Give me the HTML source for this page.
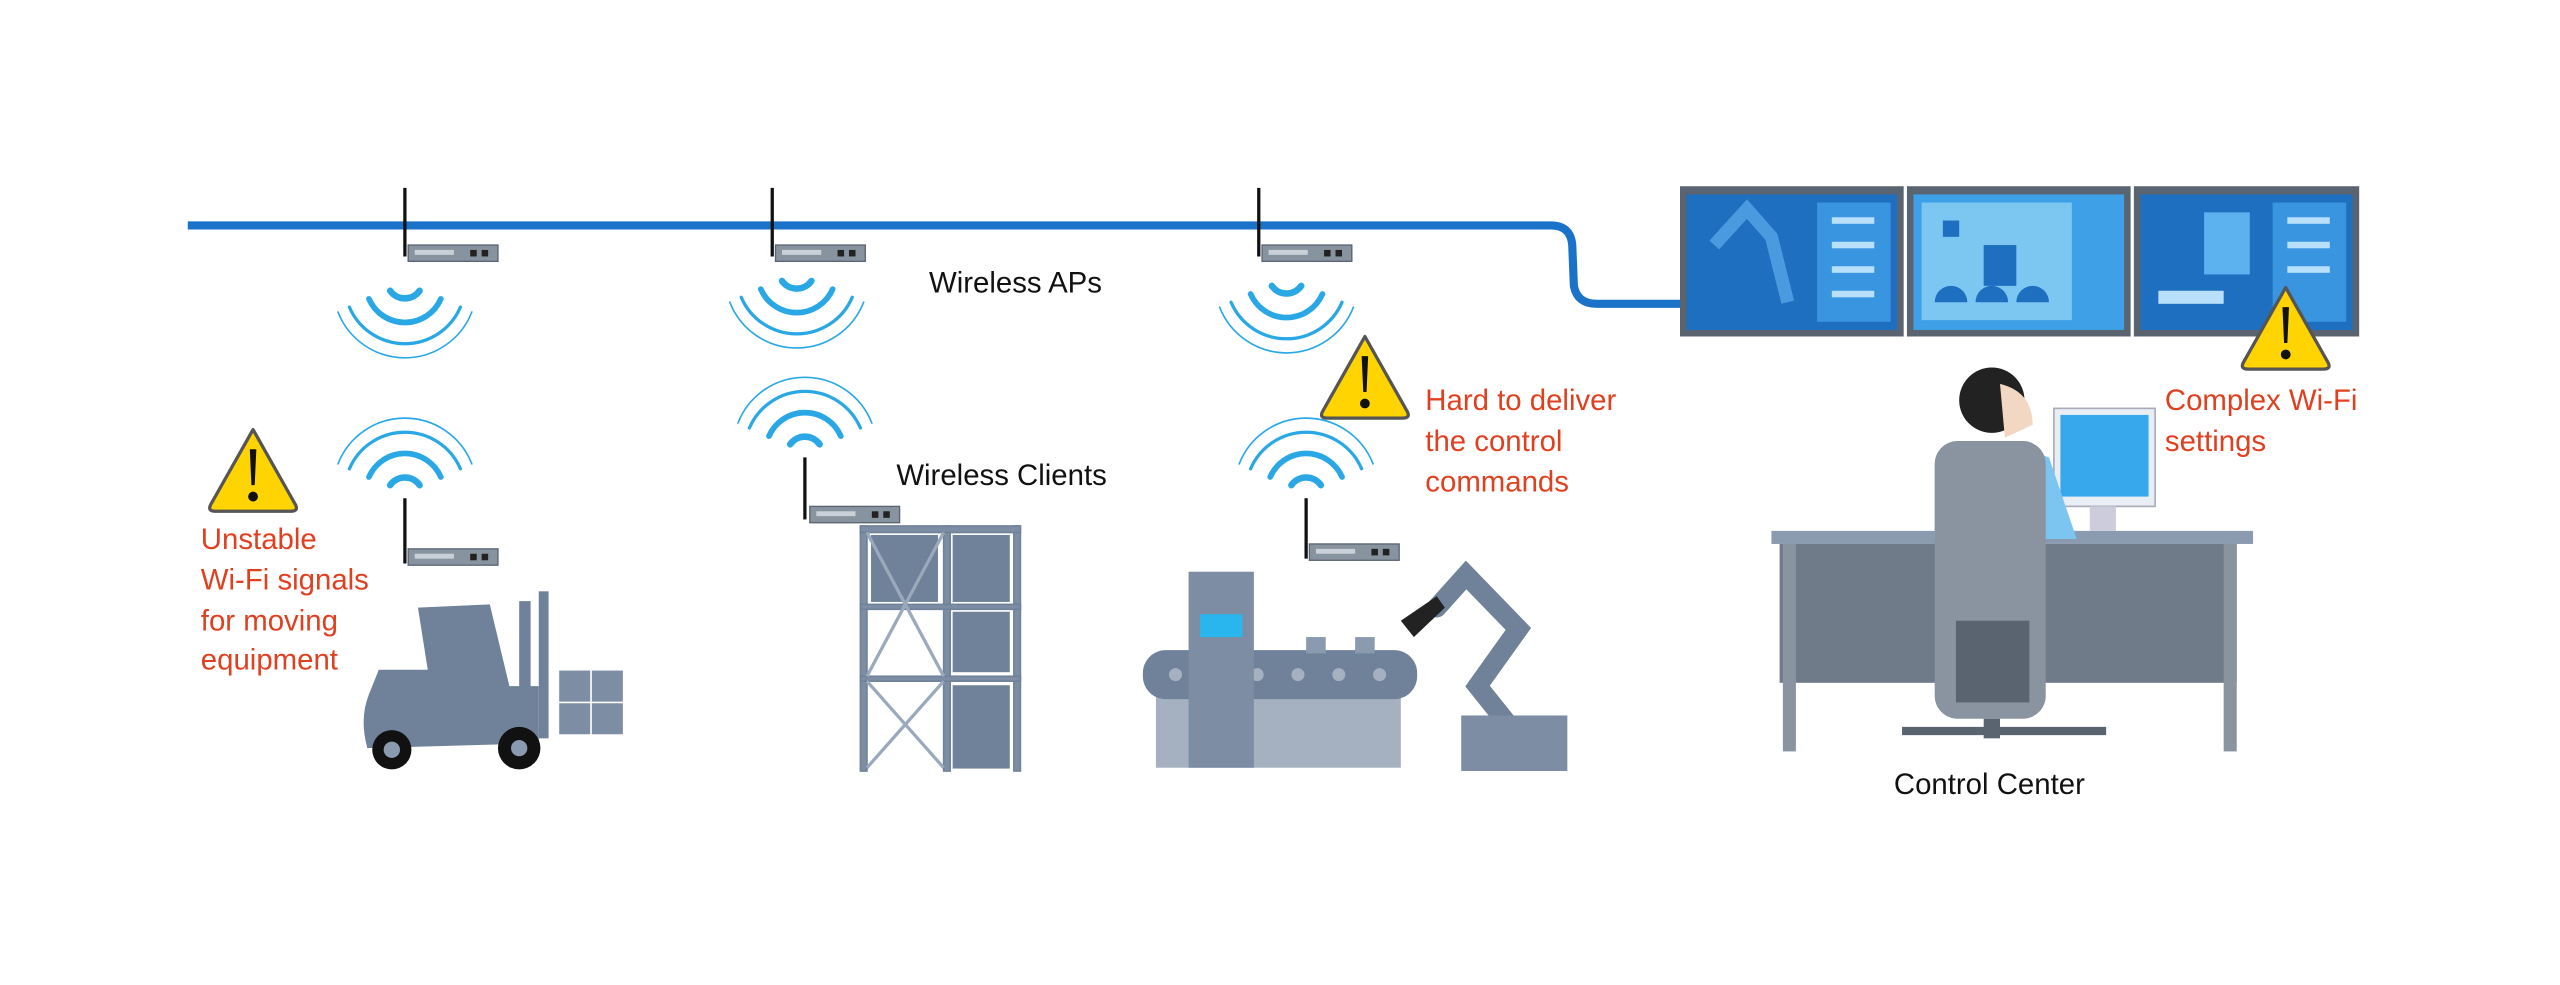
<!DOCTYPE html>
<html><head><meta charset="utf-8"><style>
html,body{margin:0;padding:0;background:#fff;}
svg{display:block;}
text{font-family:"Liberation Sans",sans-serif;}
</style></head><body>
<svg width="2560" height="985" viewBox="0 0 1568 603" preserveAspectRatio="none" xmlns="http://www.w3.org/2000/svg">
<defs>
<g id="dev"><rect x="0" y="0" width="55" height="10" fill="#8893a0" stroke="#5a6470" stroke-width="0.8"/><rect x="4" y="3" width="24" height="3" fill="#c9d0d8"/><rect x="38" y="3" width="4" height="4" fill="#222"/><rect x="45" y="3" width="4" height="4" fill="#222"/></g>
<g id="wdown" fill="none" stroke="#2aa8e6" stroke-linecap="round"><path d="M-9,0 A11 11 0 0 0 9,0" stroke-width="4"/><path d="M-22,5 A24 24 0 0 0 22,5" stroke-width="3.5"/><path d="M-34,10 A37 37 0 0 0 34,10" stroke-width="2"/><path d="M-41,13 A44 44 0 0 0 41,13" stroke-width="1" /></g>
<g id="wup" fill="none" stroke="#2aa8e6" stroke-linecap="round"><path d="M-9,0 A11 11 0 0 1 9,0" stroke-width="4"/><path d="M-22,-5 A24 24 0 0 1 22,-5" stroke-width="3.5"/><path d="M-34,-10 A37 37 0 0 1 34,-10" stroke-width="2"/><path d="M-41,-13 A44 44 0 0 1 41,-13" stroke-width="1"/></g>
<g id="warn"><path d="M28,2 L54,48 Q56,52 51,52 L5,52 Q0,52 2,48 Z" fill="#ffd400" stroke="#555" stroke-width="2" stroke-linejoin="round"/><path d="M26,14 L30,14 L29,36 L27,36 Z" fill="#111"/><circle cx="28" cy="43" r="3" fill="#111"/></g>
</defs>
<!-- backbone -->
<path d="M115,138 L950,138 Q962,138 963,150 L964,175 Q966,186 978,186 L1030,186" fill="none" stroke="#1b73c9" stroke-width="5"/>
<!-- APs -->
<g><line x1="248" y1="115" x2="248" y2="157" stroke="#111" stroke-width="2"/><use href="#dev" x="250" y="150"/><use href="#wdown" x="248" y="178"/></g>
<g><line x1="473" y1="115" x2="473" y2="157" stroke="#111" stroke-width="2"/><use href="#dev" x="475" y="150"/><use href="#wdown" x="488" y="172"/></g>
<g><line x1="771" y1="115" x2="771" y2="157" stroke="#111" stroke-width="2"/><use href="#dev" x="773" y="150"/><use href="#wdown" x="788" y="175"/></g>
<text x="569" y="179" font-size="18" fill="#111">Wireless APs</text>
<!-- clients -->
<use href="#wup" x="248" y="297"/><line x1="248" y1="305" x2="248" y2="345" stroke="#111" stroke-width="2"/><use href="#dev" x="250" y="336"/>
<use href="#wup" x="493" y="272"/><line x1="493" y1="280" x2="493" y2="318" stroke="#111" stroke-width="2"/><use href="#dev" x="496" y="310"/>
<use href="#wup" x="800" y="297"/><line x1="800" y1="305" x2="800" y2="342" stroke="#111" stroke-width="2"/><use href="#dev" x="802" y="333"/>
<text x="549" y="297" font-size="18" fill="#111">Wireless Clients</text>
<!-- warnings -->
<use href="#warn" x="127" y="261"/><use href="#warn" x="808" y="204"/>
<g font-size="18" fill="#e0401f">
<text x="123" y="336">Unstable</text><text x="123" y="361">Wi-Fi signals</text><text x="123" y="386">for moving</text><text x="123" y="410">equipment</text>
<text x="873" y="251">Hard to deliver</text><text x="873" y="276">the control</text><text x="873" y="301">commands</text>
<text x="1326" y="251">Complex Wi-Fi</text><text x="1326" y="276">settings</text>
</g>
<text x="1160" y="486" font-size="18" fill="#111">Control Center</text>
<!-- forklift -->
<g fill="#6f8299">
<path d="M232,410 L262,410 L256,372 L300,370 L312,420 L330,420 L330,455 L225,458 Q220,440 226,425 Z"/>
<rect x="318" y="368" width="7" height="87"/><rect x="330" y="362" width="6" height="90"/>
<rect x="342" y="410" width="40" height="40" fill="#7d8ea4" stroke="#fff" stroke-width="1"/>
<line x1="362" y1="410" x2="362" y2="450" stroke="#fff"/><line x1="342" y1="430" x2="382" y2="430" stroke="#fff"/>
<circle cx="272" cy="400" r="6"/><path d="M266,405 L280,405 L290,420 L268,422 Z"/>
</g>
<circle cx="240" cy="459" r="12" fill="#111"/><circle cx="240" cy="459" r="5" fill="#8a9bb0"/>
<circle cx="318" cy="458" r="13" fill="#111"/><circle cx="318" cy="458" r="5" fill="#8a9bb0"/>
<!-- shelf -->
<g fill="#7d8ea4" stroke="#6f8299">
<rect x="527" y="322" width="4" height="150"/><rect x="578" y="322" width="4" height="150"/><rect x="621" y="322" width="4" height="150"/>
<rect x="527" y="322" width="98" height="4"/><rect x="527" y="370" width="98" height="3"/><rect x="527" y="414" width="98" height="3"/>
<rect x="534" y="328" width="40" height="40" fill="#6f8299"/><rect x="584" y="328" width="34" height="40" fill="#6f8299"/>
<rect x="584" y="375" width="34" height="36" fill="#6f8299"/><rect x="584" y="420" width="34" height="50" fill="#6f8299"/>
</g>
<g stroke="#9aa9bb" stroke-width="2"><line x1="531" y1="326" x2="578" y2="414"/><line x1="578" y1="326" x2="531" y2="414"/><line x1="531" y1="417" x2="578" y2="470"/><line x1="578" y1="417" x2="531" y2="470"/></g>
<!-- conveyor -->
<rect x="708" y="410" width="150" height="60" fill="#a5b1c0"/>
<rect x="700" y="398" width="168" height="30" rx="14" fill="#6f8299"/>
<g fill="#a5b1c0"><circle cx="720" cy="413" r="4"/><circle cx="745" cy="413" r="4"/><circle cx="770" cy="413" r="4"/><circle cx="795" cy="413" r="4"/><circle cx="820" cy="413" r="4"/><circle cx="845" cy="413" r="4"/></g>
<rect x="728" y="350" width="40" height="120" fill="#7d8ea4"/><rect x="735" y="376" width="26" height="14" fill="#29b6ee"/>
<rect x="800" y="390" width="12" height="10" fill="#8a9bb0"/><rect x="830" y="390" width="12" height="10" fill="#8a9bb0"/>
<!-- robot arm -->
<g stroke="#6f8299" stroke-width="12" stroke-linecap="round" fill="none"><path d="M880,372 L898,352 L930,385 L905,420 L925,445"/></g>
<path d="M858,380 L880,365 L885,372 L866,390 Z" fill="#222"/>
<rect x="895" y="438" width="65" height="34" fill="#7d8ea4"/>
<!-- monitors -->
<g>
<rect x="1029" y="114" width="137" height="92" fill="#5a6470"/><rect x="1033" y="119" width="129" height="83" fill="#1f6fc0"/><rect x="1113" y="124" width="45" height="73" fill="#3a95e0"/>
<rect x="1168" y="114" width="137" height="92" fill="#5a6470"/><rect x="1172" y="119" width="129" height="83" fill="#3ea0e6"/><rect x="1177" y="124" width="92" height="72" fill="#7cc6f2"/>
<rect x="1307" y="114" width="138" height="92" fill="#5a6470"/><rect x="1311" y="119" width="130" height="83" fill="#1f6fc0"/><rect x="1392" y="124" width="45" height="73" fill="#3a95e0"/><rect x="1350" y="130" width="28" height="38" fill="#5bb2ee"/>
<g fill="#b9e0fa"><rect x="1122" y="133" width="26" height="4"/><rect x="1122" y="148" width="26" height="4"/><rect x="1122" y="163" width="26" height="4"/><rect x="1122" y="178" width="26" height="4"/>
<rect x="1401" y="133" width="26" height="4"/><rect x="1401" y="148" width="26" height="4"/><rect x="1401" y="163" width="26" height="4"/></g>
<path d="M1050,150 L1070,128 L1085,145 L1095,185" stroke="#4a9ae0" stroke-width="8" fill="none"/>
<g fill="#1f6fc0"><rect x="1190" y="135" width="10" height="10"/><rect x="1215" y="150" width="20" height="25"/><path d="M1185,185 a10 10 0 0 1 20 0 Z M1210,185 a10 10 0 0 1 20 0 Z M1235,185 a10 10 0 0 1 20 0 Z"/></g>
<rect x="1322" y="178" width="40" height="8" fill="#b9e0fa"/>
</g>
<use href="#warn" x="1372" y="174"/>
<!-- desk -->
<rect x="1085" y="325" width="295" height="8" fill="#8a9bb0"/>
<rect x="1090" y="333" width="280" height="85" fill="#6f7b88"/>
<rect x="1092" y="333" width="8" height="127" fill="#8a94a0"/><rect x="1362" y="333" width="8" height="127" fill="#8a94a0"/>
<!-- small monitor -->
<rect x="1258" y="250" width="62" height="60" fill="#e8eef3" stroke="#aab" /><rect x="1262" y="254" width="54" height="50" fill="#38a8ec"/><rect x="1280" y="310" width="16" height="15" fill="#ccd"/>
<!-- person & chair -->
<path d="M1185,285 Q1215,265 1255,280 L1272,330 L1240,330 L1185,330 Z" fill="#7cc5f0"/>
<rect x="1185" y="270" width="68" height="170" rx="14" fill="#8a94a0"/>
<rect x="1198" y="380" width="45" height="50" fill="#5a6470"/>
<rect x="1215" y="440" width="10" height="12" fill="#5a6470"/>
<path d="M1165,445 L1290,445 L1290,450 L1165,450 Z" fill="#5a6470"/>
<circle cx="1220" cy="245" r="20" fill="#222"/><path d="M1225,235 Q1245,240 1245,260 L1228,268 Z" fill="#f2d7c2"/>
</svg>
</body></html>
